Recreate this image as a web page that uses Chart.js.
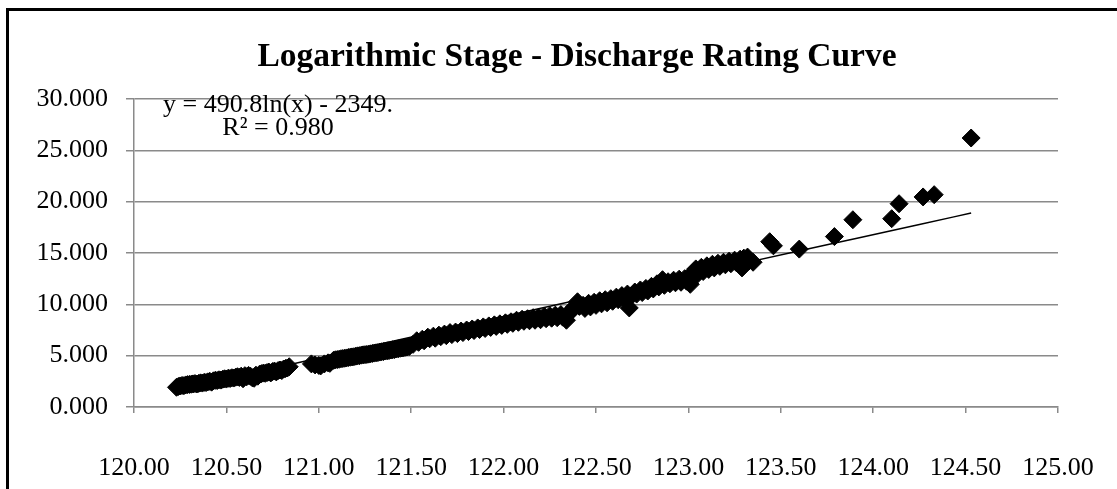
<!DOCTYPE html>
<html>
<head>
<meta charset="utf-8">
<script src="https://cdn.jsdelivr.net/npm/chart.js@4.4.1/dist/chart.umd.min.js"></script>
<style>
html,body{margin:0;padding:0;background:#fff;overflow:hidden;}
#wrap{position:relative;width:1117px;height:489px;}
#frame{position:absolute;left:6px;top:8px;width:1200px;height:600px;border-left:3px solid #000;border-top:3px solid #000;}
canvas{position:absolute;left:0;top:0;}
</style>
</head>
<body>
<div id="wrap">
<canvas id="rating" width="1117" height="489"></canvas>
<div id="frame"></div>
</div>
<script>
const chartTitle = "Logarithmic Stage - Discharge Rating Curve";
const equationLines = ["y = 490.8ln(x) - 2349.", "R\u00B2 = 0.980"];

// stage readings (x) and discharge (y)
const stage = [
120.23,120.24,120.25,120.26,120.27,120.28,120.29,120.30,120.31,120.32,
120.33,120.34,120.35,120.36,120.37,120.38,120.39,120.40,120.41,120.42,
120.43,120.44,120.45,120.46,120.47,120.48,120.49,120.50,120.51,120.52,
120.53,120.54,120.55,120.56,120.57,120.58,120.59,120.60,120.61,120.62,
120.63,120.64,120.65,120.66,120.67,120.68,120.69,120.70,120.71,120.72,
120.73,120.74,120.75,120.76,120.77,120.78,120.79,120.80,120.81,120.82,
120.83,120.84,
120.96,120.98,121.00,121.01,121.03,121.05,121.06,
121.08,121.09,121.10,121.11,121.12,121.13,121.14,121.15,121.16,121.17,
121.18,121.19,121.20,121.21,121.22,121.23,121.24,121.25,121.26,121.27,
121.28,121.29,121.30,121.31,121.32,121.33,121.34,121.35,121.36,121.37,
121.38,121.39,121.40,121.41,121.42,121.43,121.44,121.45,121.46,121.47,
121.48,121.49,
121.51,121.53,121.54,121.56,121.57,121.59,121.60,121.62,121.63,121.65,
121.66,121.68,121.69,121.71,121.72,121.74,121.75,121.77,121.78,121.80,
121.81,121.83,121.84,121.86,121.87,121.89,121.90,121.92,121.93,121.95,
121.96,121.98,121.99,122.01,122.02,122.04,122.05,122.07,122.08,122.10,
122.11,122.13,122.14,122.16,122.17,122.19,122.20,122.22,122.23,122.25,
122.26,122.28,122.29,122.31,122.32,122.34,122.35,122.37,122.38,122.40,
122.41,122.43,122.44,122.46,122.47,122.49,122.50,122.52,122.53,122.55,
122.56,122.58,122.59,122.61,122.62,122.64,122.65,122.67,122.68,122.69,
122.71,122.72,122.74,122.75,122.77,122.78,122.80,122.81,122.83,122.84,
122.86,122.87,122.89,122.90,122.92,122.93,122.95,122.96,122.98,122.99,
123.01,123.02,123.03,123.04,123.05,123.07,123.08,123.10,123.11,123.13,
123.14,123.16,123.17,123.19,123.20,123.22,123.23,123.25,123.26,123.28,
123.29,123.30,123.32,123.33,123.35,
123.44,123.46,123.60,123.79,123.89,124.10,124.14,124.27,124.33,124.53
];

const discharge = [
1.92,2.00,2.05,2.10,2.08,2.15,2.18,2.20,2.22,2.25,
2.28,2.24,2.30,2.35,2.33,2.40,2.38,2.45,2.50,2.42,
2.55,2.60,2.58,2.65,2.62,2.70,2.75,2.72,2.80,2.78,
2.85,2.82,2.90,2.95,2.88,3.00,2.75,3.05,2.95,3.08,
3.00,2.85,2.80,3.10,3.00,3.20,3.25,3.30,3.28,3.35,
3.40,3.32,3.45,3.50,3.42,3.55,3.60,3.55,3.70,3.75,
3.80,3.92,
4.20,4.10,4.05,4.00,4.20,4.30,4.25,
4.55,4.60,4.62,4.65,4.70,4.72,4.75,4.78,4.82,4.85,
4.88,4.90,4.95,4.98,5.00,5.05,5.08,5.10,5.12,5.15,
5.18,5.22,5.25,5.28,5.30,5.35,5.38,5.40,5.45,5.48,
5.50,5.55,5.58,5.60,5.65,5.68,5.72,5.75,5.78,5.82,
5.85,5.90,
6.10,6.45,6.30,6.60,6.45,6.80,6.65,6.90,6.70,7.00,
6.85,7.10,6.95,7.25,7.05,7.30,7.15,7.40,7.25,7.50,
7.35,7.60,7.45,7.70,7.55,7.80,7.65,7.90,7.75,8.00,
7.85,8.10,7.95,8.20,8.05,8.30,8.15,8.45,8.25,8.55,
8.35,8.60,8.40,8.70,8.45,8.75,8.50,8.85,8.60,8.90,
8.65,8.95,8.70,9.00,8.75,8.45,9.10,9.40,9.70,10.25,
9.80,9.90,9.60,10.10,9.75,10.20,9.90,10.35,10.05,10.45,
10.15,10.55,10.30,10.70,10.45,10.85,10.60,11.00,9.65,10.80,
11.20,11.00,11.40,11.15,11.55,11.30,11.75,11.50,12.00,11.70,
12.40,11.85,12.20,12.00,12.35,12.10,12.45,12.15,12.50,12.25,
11.95,12.90,13.20,13.45,12.95,13.60,13.20,13.75,13.40,13.90,
13.55,14.00,13.70,14.10,13.85,14.20,13.95,14.30,14.05,14.40,
13.55,14.50,14.60,14.25,14.10,
16.10,15.70,15.38,16.60,18.24,18.34,19.80,20.46,20.68,26.20
];

// logarithmic trendline, points
const trendStage = [120.23,120.75,121.25,121.75,122.25,122.75,123.25,123.75,124.25,124.53];
const trendDischarge = [1.64,3.76,5.79,7.81,9.82,11.82,13.82,15.80,17.78,18.89];

const gridGray = "#8a8a8a";
const serif = "'Liberation Serif', 'Times New Roman', serif";

const textPlugin = {
id:"textPlugin",
afterDraw(chart){
const {ctx} = chart;
ctx.save();
ctx.fillStyle = "#000";
ctx.textAlign = "center";
ctx.textBaseline = "alphabetic";
ctx.font = "bold 33.5px " + serif;
ctx.fillText(chartTitle, 577, 66);
ctx.font = "26px " + serif;
ctx.fillText(equationLines[0], 278, 112);
ctx.fillText(equationLines[1], 278, 135);
ctx.restore();
}
};

new Chart(document.getElementById("rating"),{
type:"scatter",
data:{
datasets:[{
label:"Trend",
type:"line",
data:trendStage.map((x,i)=>({x:x,y:trendDischarge[i]})),
borderColor:"#000",
borderWidth:1.5,
pointRadius:0,
fill:false,
cubicInterpolationMode:"monotone"
},{
label:"Discharge",
data:stage.map((x,i)=>({x:x,y:discharge[i]})),
pointStyle:"rectRot",
pointRadius:9,
backgroundColor:"#000",
borderColor:"#000",
borderWidth:1
}]
},
options:{
responsive:false,
animation:false,
devicePixelRatio:1,
layout:{padding:{top:99,right:59,bottom:0,left:0}},
plugins:{legend:{display:false},tooltip:{enabled:false},title:{display:false}},
scales:{
x:{
type:"linear",min:120,max:125,
ticks:{stepSize:0.5,padding:40,color:"#000",maxRotation:0,autoSkip:false,
font:{family:serif,size:26},
callback:v=>v.toFixed(2)},
grid:{drawOnChartArea:false,drawTicks:true,tickLength:6,color:gridGray,lineWidth:1.5},
border:{color:gridGray,width:1.5},
afterFit(s){s.height=82;s.paddingLeft=0;s.paddingRight=0;}
},
y:{
min:0,max:30,
ticks:{stepSize:5,padding:18,color:"#000",font:{family:serif,size:26},
callback:v=>v.toFixed(3)},
grid:{color:gridGray,lineWidth:1.5,tickLength:8},
border:{color:gridGray,width:1.5},
afterFit(s){s.width=134;s.paddingTop=0;s.paddingBottom=0;}
}
}
},
plugins:[textPlugin]
});
</script>
</body>
</html>
